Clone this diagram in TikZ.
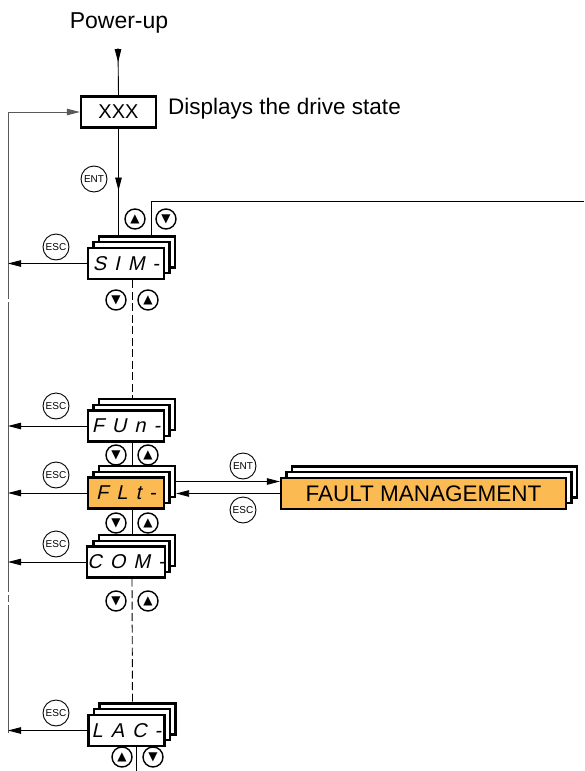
\documentclass[tikz,border=0pt]{standalone}
\usepackage{fontspec}
\setmainfont{Liberation Sans}
\newfontfamily\segfont[FakeSlant=0.22,LetterSpace=40]{Liberation Sans}
\newfontfamily\symfont{DejaVu Sans}
\usetikzlibrary{arrows.meta,decorations.markings}
\definecolor{faultorange}{RGB}{252,186,82}

\newcommand\menustack[7]{% name, x, y, text, fill, width, font
  \node[dispbox,minimum width=#6] (#1-b) at (#2+11,#3-11.5) {};
  \node[dispbox,minimum width=#6] (#1-m) at (#2+5.5,#3-5.75) {};
  \node[dispbox,minimum width=#6,fill=#5,font=#7] (#1) at (#2,#3) {#4};
}

\begin{document}
\begin{tikzpicture}[x=1pt,y=-1pt,
  conn/.style={line width=0.9pt},
  tip/.style={-{Triangle[length=13pt,width=6.5pt]}},
  arr/.style={conn,tip},
  midtip/.style={conn,decoration={markings,mark=at position #1 with {\arrow{Triangle[length=13pt,width=6.5pt]}}},postaction={decorate}},
  dashline/.style={conn,dash pattern=on 8pt off 3.5pt},
  loopline/.style={line width=0.9pt,draw=black!65},
  dispbox/.style={draw,line width=2.3pt,fill=white,minimum height=31pt,inner sep=0pt},
  keybtn/.style={circle,draw,line width=0.9pt,minimum size=26pt,inner sep=0pt,font=\fontsize{10}{10}\selectfont},
  navbtn/.style={circle,draw,line width=1.4pt,minimum size=20pt,inner sep=0pt,font=\symfont\fontsize{12}{12}\selectfont},
  label/.style={font=\fontsize{22.5}{23}\selectfont,inner sep=0pt}
]
\useasboundingbox (0,0) rectangle (584,771);

% title and state box
\node[label,font=\fontsize{23}{24}\selectfont,anchor=base] (pwr) at (119,28) {Power-up};
\coordinate (pwrtop) at (118,48);
\node[draw,line width=2.3pt,minimum width=75pt,minimum height=31pt,inner sep=0pt,font=\fontsize{20}{20}\selectfont] (xxx) at (118.5,112) {XXX};
\node[label,anchor=base west] (disp) at (168,114) {Displays the drive state};

% menu stacks
\def\segf{\segfont\fontsize{20}{20}\selectfont}
\menustack{sim}{126}{263.5}{SIM-}{white}{76pt}{\segf}
\menustack{fun}{126}{426}{FUn-}{white}{76pt}{\segf}
\menustack{flt}{126}{493}{FLt-}{faultorange}{76pt}{\segf}
\menustack{com}{126}{562}{COM-}{white}{76pt}{\segf}
\menustack{lac}{126.5}{730.5}{LAC-}{white}{76pt}{\segf}
\menustack{fault}{423.5}{493.5}{FAULT MANAGEMENT}{faultorange}{285pt}{\fontsize{22.5}{23}\selectfont}

% power-up arrow and ENT into menus
\draw[midtip=0.3] (pwrtop) -- (xxx.north);
\draw[midtip=0.58] (xxx.south) -- (xxx.south |- sim-b.north);
\node[keybtn] (entmain) at (94,179) {ENT};

% wrap line from top of first menu to the right edge
\coordinate (wrapr) at (584,201);
\draw[conn] ([xshift=14pt]sim-b.north) |- (wrapr);
\node[navbtn] (simup) at (135,219) {▲};
\node[navbtn] (simdn) at (166,219) {▼};

% left return loop
\coordinate (lp1) at (8,299);
\coordinate (lp2) at (8,302);
\coordinate (lp3) at (8,592);
\coordinate (lp4) at (8,595);
\coordinate (lp5) at (8,602);
\coordinate (lp6) at (8,605);
\coordinate (lp7) at (8,733);
\draw[loopline,tip] (lp1) |- (xxx.west);
\draw[loopline] (lp2) -- (lp3);
\draw[loopline] (lp4) -- (lp5);
\draw[loopline] (lp6) -- (lp7);

% ESC arrows to the left
\foreach \m/\ey in {sim/247,fun/406,flt/475,com/544,lac/713}{
  \draw[arr] (\m.west) -- (\m.west -| lp1);
  \node[keybtn] (esc-\m) at (56,\ey) {ESC};
}

% vertical links between menus
\draw[dashline] ([xshift=6pt]sim.south) -- ([xshift=-5pt]fun-b.north);
\draw[conn] ([xshift=6pt]fun.south) -- ([xshift=-5pt]flt-b.north);
\draw[conn] ([xshift=6pt]flt.south) -- ([xshift=-5pt]com-b.north);
\draw[dashline] ([xshift=6pt]com.south) -- ([xshift=-5pt]lac-b.north);
\coordinate (wrapb) at (136.5,771);
\draw[conn] ([xshift=10pt]lac.south) -- (wrapb);

% navigation buttons
\node[navbtn] (d1) at (116,300) {▼};
\node[navbtn] (u1) at (148,300) {▲};
\node[navbtn] (d2) at (116,455) {▼};
\node[navbtn] (u2) at (148,455) {▲};
\node[navbtn] (d3) at (116,523) {▼};
\node[navbtn] (u3) at (148,523) {▲};
\node[navbtn] (d4) at (116,601) {▼};
\node[navbtn] (u4) at (148,601) {▲};
\node[navbtn] (u5) at (122,757) {▲};
\node[navbtn] (d5) at (153,757) {▼};

% FLt <-> FAULT MANAGEMENT
\draw[arr] (flt-b.east) -- (flt-b.east -| fault.west);
\draw[arr] (fault.west) -- (fault.west -| flt-b.east);
\node[keybtn] (entflt) at (243,466) {ENT};
\node[keybtn] (escflt) at (243,510) {ESC};
\end{tikzpicture}
\end{document}
